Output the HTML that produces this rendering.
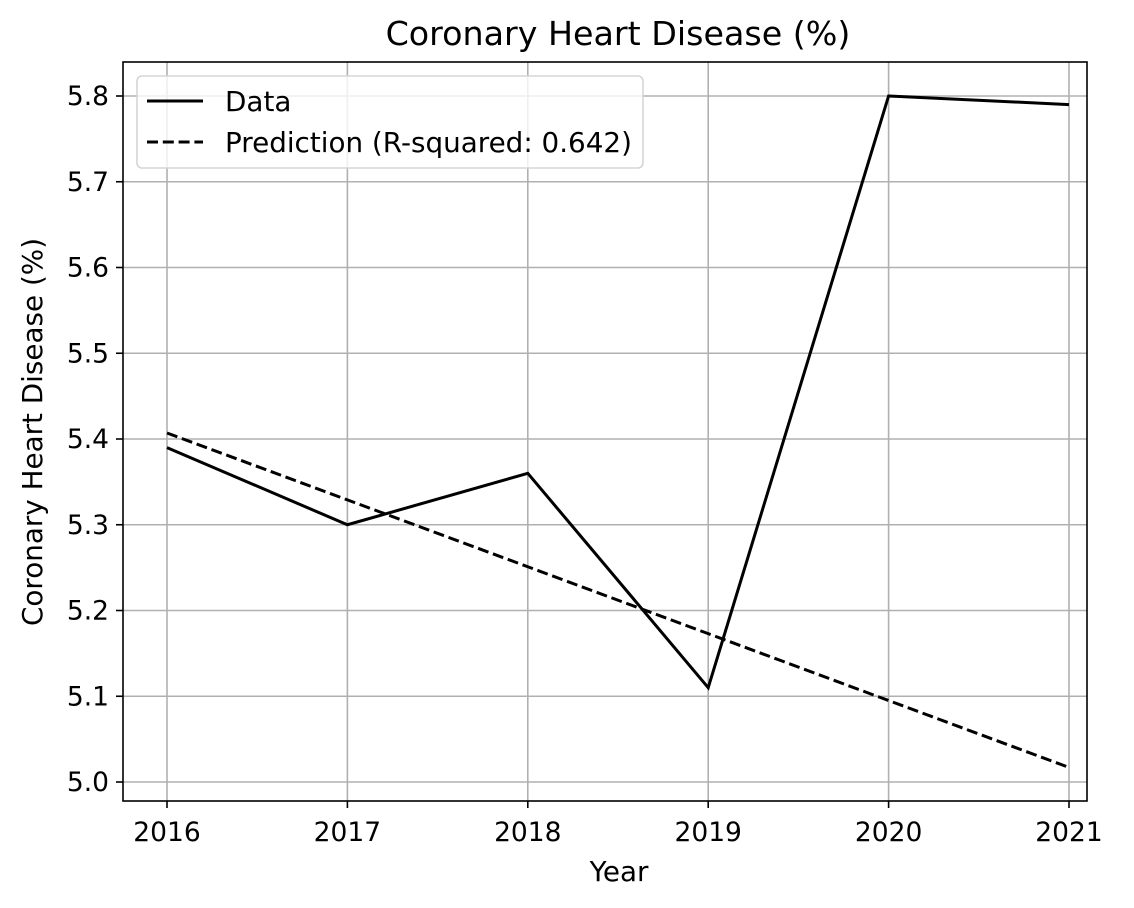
<!DOCTYPE html>
<html><head><meta charset="utf-8"><style>
body{margin:0;background:#fff}
svg{display:block;font-family:"DejaVu Sans","Liberation Sans",sans-serif}
</style></head><body>
<svg id="chart" width="1134" height="908"></svg>
<script>
const years=[2016,2017,2018,2019,2020,2021];
const dataValues=[5.39,5.30,5.36,5.11,5.80,5.79];
const predValues=[5.407,5.329,5.251,5.173,5.095,5.017];
const yTicks=[5.0,5.1,5.2,5.3,5.4,5.5,5.6,5.7,5.8];
const xTicks=[2016,2017,2018,2019,2020,2021];
const NS="http://www.w3.org/2000/svg";
const svg=document.getElementById('chart');
const L=123,R=1087,T=62,B=801;
const FS=27.8, TFS=26.5;
const x=v=>167+(v-2016)*(1069-167)/5;
const y=v=>782-(v-5.0)*(782-96)/0.8;
function el(tag,attrs,parent){const e=document.createElementNS(NS,tag);for(const k in attrs)e.setAttribute(k,attrs[k]);(parent||svg).appendChild(e);return e;}
const grid=el('g',{});


xTicks.forEach(t=>{el('line',{x1:x(t),x2:x(t),y1:T,y2:B,stroke:'#b0b0b0','stroke-width':1.6},grid);});
yTicks.forEach(t=>{el('line',{x1:L,x2:R,y1:y(t),y2:y(t),stroke:'#b0b0b0','stroke-width':1.6},grid);});
const xa=el('g',{});


xTicks.forEach(t=>{el('line',{x1:x(t),x2:x(t),y1:B,y2:B+7,stroke:'#000','stroke-width':1.6},xa);
const tx=el('text',{x:x(t),y:B+40,'text-anchor':'middle','font-size':TFS},xa);tx.textContent=t;});
const ya=el('g',{});


yTicks.forEach(t=>{el('line',{x1:L-7,x2:L,y1:y(t),y2:y(t),stroke:'#000','stroke-width':1.6},ya);
const tx=el('text',{x:L-14,y:y(t)+9,'text-anchor':'end','font-size':TFS},ya);tx.textContent=t.toFixed(1);});
const dl=el('polyline',{points:years.map((v,i)=>x(v)+','+y(dataValues[i])).join(' '),fill:'none',stroke:'#000','stroke-width':3});


const pl=el('polyline',{points:years.map((v,i)=>x(v)+','+y(predValues[i])).join(' '),fill:'none',stroke:'#000','stroke-width':3,'stroke-dasharray':'11,4.8'});


el('rect',{x:L,y:T,width:R-L,height:B-T,fill:'none',stroke:'#000','stroke-width':1.6});
const lg=el('g',{});


el('rect',{x:137,y:76,width:506,height:92,rx:5,fill:'#fff','fill-opacity':0.8,stroke:'#d5d5d5','stroke-width':1.6},lg);
el('line',{x1:147,x2:203,y1:101,y2:101,stroke:'#000','stroke-width':3},lg);
el('line',{x1:147,x2:203,y1:142,y2:142,stroke:'#000','stroke-width':3,'stroke-dasharray':'11,4.8'},lg);
let t1=el('text',{x:225,y:111,'font-size':FS},lg);t1.textContent='Data';
let t2=el('text',{x:225,y:152,'font-size':FS},lg);t2.textContent='Prediction (R-squared: 0.642)';
const title=el('text',{x:618,y:45,'text-anchor':'middle','font-size':33.3});title.textContent='Coronary Heart Disease (%)';


const xt=el('text',{x:619,y:881,'text-anchor':'middle','font-size':FS});xt.textContent='Year';


const yt=el('text',{x:0,y:0,'text-anchor':'middle','font-size':FS,transform:'translate(42,432) rotate(-90)'});yt.textContent='Coronary Heart Disease (%)';


</script>
</body></html>
